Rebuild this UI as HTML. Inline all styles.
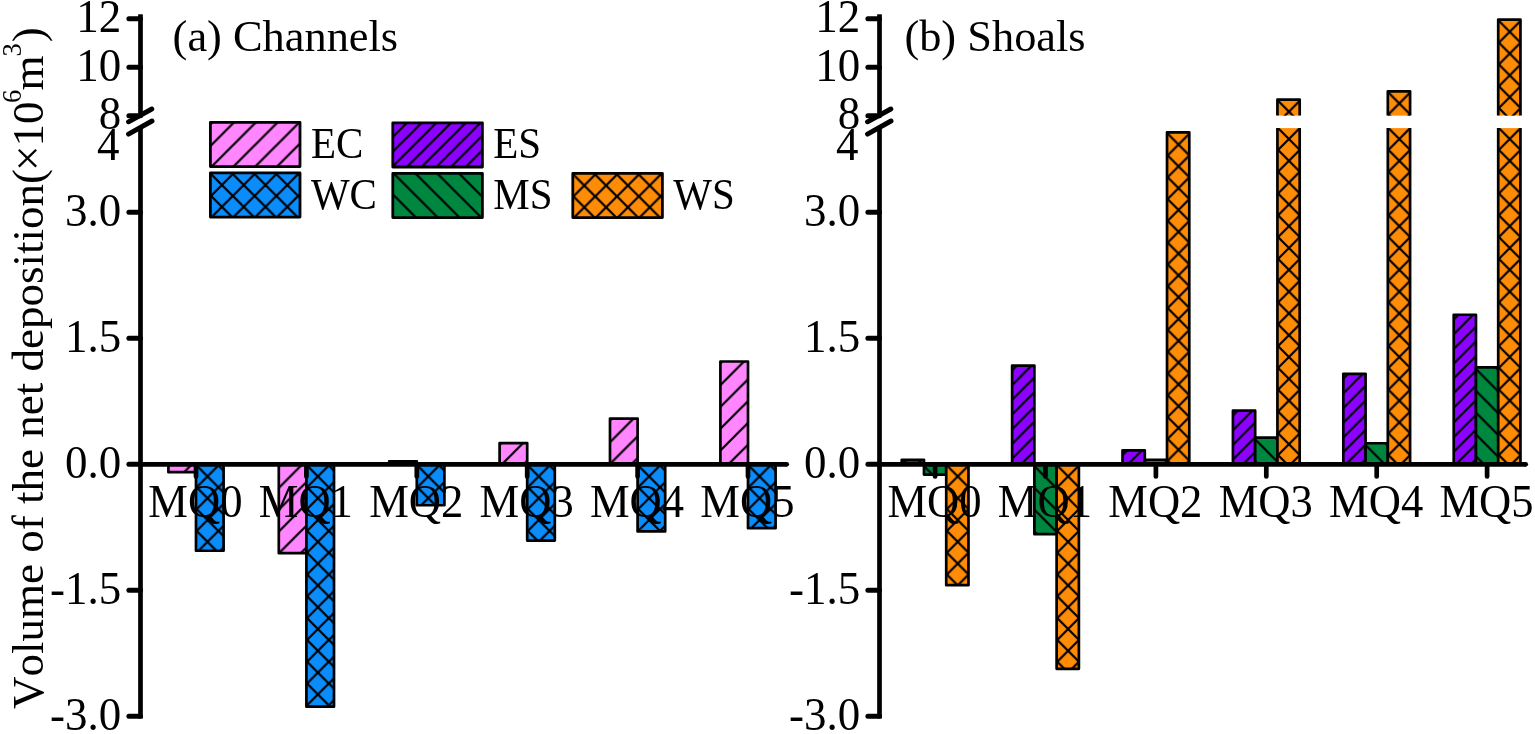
<!DOCTYPE html>
<html lang="en">
<head>
<meta charset="utf-8">
<title>Volume of the net deposition</title>
<style>
html,body{margin:0;padding:0;background:#fff;}
body{width:1535px;height:734px;overflow:hidden;}
svg{display:block;}
svg text{font-family:"Liberation Serif", "Times New Roman", serif;fill:#000;font-kerning:none;font-variant-ligatures:none;}
</style>
</head>
<body>
<svg width="1535" height="734" viewBox="0 0 1535 734">
<rect width="1535" height="734" fill="#fff"/>
<defs>
<pattern id="h1" patternUnits="userSpaceOnUse" x="169.00" y="465.50" width="21.80" height="21.80"><path d="M-23.80 23.80L2.00 -2.00M-2.00 23.80L23.80 -2.00M19.80 23.80L45.60 -2.00" stroke="#000" stroke-width="2.25" fill="none" stroke-linecap="square"/></pattern>
<pattern id="h2" patternUnits="userSpaceOnUse" x="196.60" y="465.50" width="21.80" height="21.80"><path d="M-23.80 23.80L2.00 -2.00M-2.00 23.80L23.80 -2.00M19.80 23.80L45.60 -2.00M-23.80 -2.00L2.00 23.80M-2.00 -2.00L23.80 23.80M19.80 -2.00L45.60 23.80" stroke="#000" stroke-width="2.25" fill="none" stroke-linecap="square"/></pattern>
<pattern id="h3" patternUnits="userSpaceOnUse" x="279.40" y="465.50" width="21.80" height="21.80"><path d="M-23.80 23.80L2.00 -2.00M-2.00 23.80L23.80 -2.00M19.80 23.80L45.60 -2.00" stroke="#000" stroke-width="2.25" fill="none" stroke-linecap="square"/></pattern>
<pattern id="h4" patternUnits="userSpaceOnUse" x="307.00" y="465.50" width="21.80" height="21.80"><path d="M-23.80 23.80L2.00 -2.00M-2.00 23.80L23.80 -2.00M19.80 23.80L45.60 -2.00M-23.80 -2.00L2.00 23.80M-2.00 -2.00L23.80 23.80M19.80 -2.00L45.60 23.80" stroke="#000" stroke-width="2.25" fill="none" stroke-linecap="square"/></pattern>
<pattern id="h5" patternUnits="userSpaceOnUse" x="389.80" y="462.50" width="21.80" height="21.80"><path d="M-23.80 23.80L2.00 -2.00M-2.00 23.80L23.80 -2.00M19.80 23.80L45.60 -2.00" stroke="#000" stroke-width="2.25" fill="none" stroke-linecap="square"/></pattern>
<pattern id="h6" patternUnits="userSpaceOnUse" x="417.40" y="465.50" width="21.80" height="21.80"><path d="M-23.80 23.80L2.00 -2.00M-2.00 23.80L23.80 -2.00M19.80 23.80L45.60 -2.00M-23.80 -2.00L2.00 23.80M-2.00 -2.00L23.80 23.80M19.80 -2.00L45.60 23.80" stroke="#000" stroke-width="2.25" fill="none" stroke-linecap="square"/></pattern>
<pattern id="h7" patternUnits="userSpaceOnUse" x="500.20" y="444.25" width="21.80" height="21.80"><path d="M-23.80 23.80L2.00 -2.00M-2.00 23.80L23.80 -2.00M19.80 23.80L45.60 -2.00" stroke="#000" stroke-width="2.25" fill="none" stroke-linecap="square"/></pattern>
<pattern id="h8" patternUnits="userSpaceOnUse" x="527.80" y="465.50" width="21.80" height="21.80"><path d="M-23.80 23.80L2.00 -2.00M-2.00 23.80L23.80 -2.00M19.80 23.80L45.60 -2.00M-23.80 -2.00L2.00 23.80M-2.00 -2.00L23.80 23.80M19.80 -2.00L45.60 23.80" stroke="#000" stroke-width="2.25" fill="none" stroke-linecap="square"/></pattern>
<pattern id="h9" patternUnits="userSpaceOnUse" x="610.60" y="419.75" width="21.80" height="21.80"><path d="M-23.80 23.80L2.00 -2.00M-2.00 23.80L23.80 -2.00M19.80 23.80L45.60 -2.00" stroke="#000" stroke-width="2.25" fill="none" stroke-linecap="square"/></pattern>
<pattern id="h10" patternUnits="userSpaceOnUse" x="638.20" y="465.50" width="21.80" height="21.80"><path d="M-23.80 23.80L2.00 -2.00M-2.00 23.80L23.80 -2.00M19.80 23.80L45.60 -2.00M-23.80 -2.00L2.00 23.80M-2.00 -2.00L23.80 23.80M19.80 -2.00L45.60 23.80" stroke="#000" stroke-width="2.25" fill="none" stroke-linecap="square"/></pattern>
<pattern id="h11" patternUnits="userSpaceOnUse" x="721.00" y="362.70" width="21.80" height="21.80"><path d="M-23.80 23.80L2.00 -2.00M-2.00 23.80L23.80 -2.00M19.80 23.80L45.60 -2.00" stroke="#000" stroke-width="2.25" fill="none" stroke-linecap="square"/></pattern>
<pattern id="h12" patternUnits="userSpaceOnUse" x="748.60" y="465.50" width="21.80" height="21.80"><path d="M-23.80 23.80L2.00 -2.00M-2.00 23.80L23.80 -2.00M19.80 23.80L45.60 -2.00M-23.80 -2.00L2.00 23.80M-2.00 -2.00L23.80 23.80M19.80 -2.00L45.60 23.80" stroke="#000" stroke-width="2.25" fill="none" stroke-linecap="square"/></pattern>
<pattern id="h13" patternUnits="userSpaceOnUse" x="902.33" y="464.05" width="14.70" height="14.70"><path d="M-16.70 16.70L2.00 -2.00M-2.00 16.70L16.70 -2.00M12.70 16.70L31.40 -2.00" stroke="#000" stroke-width="2.25" fill="none" stroke-linecap="square"/></pattern>
<pattern id="h14" patternUnits="userSpaceOnUse" x="924.58" y="466.70" width="21.80" height="21.80"><path d="M-23.80 -2.00L2.00 23.80M-2.00 -2.00L23.80 23.80M19.80 -2.00L45.60 23.80" stroke="#000" stroke-width="2.25" fill="none" stroke-linecap="square"/></pattern>
<pattern id="h15" patternUnits="userSpaceOnUse" x="946.83" y="465.50" width="21.80" height="21.80"><path d="M-23.80 23.80L2.00 -2.00M-2.00 23.80L23.80 -2.00M19.80 23.80L45.60 -2.00M-23.80 -2.00L2.00 23.80M-2.00 -2.00L23.80 23.80M19.80 -2.00L45.60 23.80" stroke="#000" stroke-width="2.25" fill="none" stroke-linecap="square"/></pattern>
<pattern id="h16" patternUnits="userSpaceOnUse" x="1012.73" y="369.75" width="14.70" height="14.70"><path d="M-16.70 16.70L2.00 -2.00M-2.00 16.70L16.70 -2.00M12.70 16.70L31.40 -2.00" stroke="#000" stroke-width="2.25" fill="none" stroke-linecap="square"/></pattern>
<pattern id="h17" patternUnits="userSpaceOnUse" x="1034.97" y="466.70" width="21.80" height="21.80"><path d="M-23.80 -2.00L2.00 23.80M-2.00 -2.00L23.80 23.80M19.80 -2.00L45.60 23.80" stroke="#000" stroke-width="2.25" fill="none" stroke-linecap="square"/></pattern>
<pattern id="h18" patternUnits="userSpaceOnUse" x="1057.22" y="465.50" width="21.80" height="21.80"><path d="M-23.80 23.80L2.00 -2.00M-2.00 23.80L23.80 -2.00M19.80 23.80L45.60 -2.00M-23.80 -2.00L2.00 23.80M-2.00 -2.00L23.80 23.80M19.80 -2.00L45.60 23.80" stroke="#000" stroke-width="2.25" fill="none" stroke-linecap="square"/></pattern>
<pattern id="h19" patternUnits="userSpaceOnUse" x="1123.12" y="454.55" width="14.70" height="14.70"><path d="M-16.70 16.70L2.00 -2.00M-2.00 16.70L16.70 -2.00M12.70 16.70L31.40 -2.00" stroke="#000" stroke-width="2.25" fill="none" stroke-linecap="square"/></pattern>
<pattern id="h20" patternUnits="userSpaceOnUse" x="1145.38" y="462.15" width="21.80" height="21.80"><path d="M-23.80 -2.00L2.00 23.80M-2.00 -2.00L23.80 23.80M19.80 -2.00L45.60 23.80" stroke="#000" stroke-width="2.25" fill="none" stroke-linecap="square"/></pattern>
<pattern id="h21" patternUnits="userSpaceOnUse" x="1167.62" y="133.65" width="21.80" height="21.80"><path d="M-23.80 23.80L2.00 -2.00M-2.00 23.80L23.80 -2.00M19.80 23.80L45.60 -2.00M-23.80 -2.00L2.00 23.80M-2.00 -2.00L23.80 23.80M19.80 -2.00L45.60 23.80" stroke="#000" stroke-width="2.25" fill="none" stroke-linecap="square"/></pattern>
<pattern id="h22" patternUnits="userSpaceOnUse" x="1233.53" y="414.85" width="14.70" height="14.70"><path d="M-16.70 16.70L2.00 -2.00M-2.00 16.70L16.70 -2.00M12.70 16.70L31.40 -2.00" stroke="#000" stroke-width="2.25" fill="none" stroke-linecap="square"/></pattern>
<pattern id="h23" patternUnits="userSpaceOnUse" x="1255.78" y="440.05" width="21.80" height="21.80"><path d="M-23.80 -2.00L2.00 23.80M-2.00 -2.00L23.80 23.80M19.80 -2.00L45.60 23.80" stroke="#000" stroke-width="2.25" fill="none" stroke-linecap="square"/></pattern>
<pattern id="h24" patternUnits="userSpaceOnUse" x="1278.03" y="128.10" width="21.80" height="21.80"><path d="M-23.80 23.80L2.00 -2.00M-2.00 23.80L23.80 -2.00M19.80 23.80L45.60 -2.00M-23.80 -2.00L2.00 23.80M-2.00 -2.00L23.80 23.80M19.80 -2.00L45.60 23.80" stroke="#000" stroke-width="2.25" fill="none" stroke-linecap="square"/></pattern>
<pattern id="h25" patternUnits="userSpaceOnUse" x="1278.03" y="100.75" width="21.80" height="21.80"><path d="M-23.80 23.80L2.00 -2.00M-2.00 23.80L23.80 -2.00M19.80 23.80L45.60 -2.00M-23.80 -2.00L2.00 23.80M-2.00 -2.00L23.80 23.80M19.80 -2.00L45.60 23.80" stroke="#000" stroke-width="2.25" fill="none" stroke-linecap="square"/></pattern>
<pattern id="h26" patternUnits="userSpaceOnUse" x="1343.92" y="378.05" width="14.70" height="14.70"><path d="M-16.70 16.70L2.00 -2.00M-2.00 16.70L16.70 -2.00M12.70 16.70L31.40 -2.00" stroke="#000" stroke-width="2.25" fill="none" stroke-linecap="square"/></pattern>
<pattern id="h27" patternUnits="userSpaceOnUse" x="1366.17" y="445.65" width="21.80" height="21.80"><path d="M-23.80 -2.00L2.00 23.80M-2.00 -2.00L23.80 23.80M19.80 -2.00L45.60 23.80" stroke="#000" stroke-width="2.25" fill="none" stroke-linecap="square"/></pattern>
<pattern id="h28" patternUnits="userSpaceOnUse" x="1388.42" y="128.10" width="21.80" height="21.80"><path d="M-23.80 23.80L2.00 -2.00M-2.00 23.80L23.80 -2.00M19.80 23.80L45.60 -2.00M-23.80 -2.00L2.00 23.80M-2.00 -2.00L23.80 23.80M19.80 -2.00L45.60 23.80" stroke="#000" stroke-width="2.25" fill="none" stroke-linecap="square"/></pattern>
<pattern id="h29" patternUnits="userSpaceOnUse" x="1388.42" y="92.55" width="21.80" height="21.80"><path d="M-23.80 23.80L2.00 -2.00M-2.00 23.80L23.80 -2.00M19.80 23.80L45.60 -2.00M-23.80 -2.00L2.00 23.80M-2.00 -2.00L23.80 23.80M19.80 -2.00L45.60 23.80" stroke="#000" stroke-width="2.25" fill="none" stroke-linecap="square"/></pattern>
<pattern id="h30" patternUnits="userSpaceOnUse" x="1454.32" y="318.95" width="14.70" height="14.70"><path d="M-16.70 16.70L2.00 -2.00M-2.00 16.70L16.70 -2.00M12.70 16.70L31.40 -2.00" stroke="#000" stroke-width="2.25" fill="none" stroke-linecap="square"/></pattern>
<pattern id="h31" patternUnits="userSpaceOnUse" x="1476.57" y="369.70" width="21.80" height="21.80"><path d="M-23.80 -2.00L2.00 23.80M-2.00 -2.00L23.80 23.80M19.80 -2.00L45.60 23.80" stroke="#000" stroke-width="2.25" fill="none" stroke-linecap="square"/></pattern>
<pattern id="h32" patternUnits="userSpaceOnUse" x="1498.82" y="128.10" width="21.80" height="21.80"><path d="M-23.80 23.80L2.00 -2.00M-2.00 23.80L23.80 -2.00M19.80 23.80L45.60 -2.00M-23.80 -2.00L2.00 23.80M-2.00 -2.00L23.80 23.80M19.80 -2.00L45.60 23.80" stroke="#000" stroke-width="2.25" fill="none" stroke-linecap="square"/></pattern>
<pattern id="h33" patternUnits="userSpaceOnUse" x="1498.82" y="20.85" width="21.80" height="21.80"><path d="M-23.80 23.80L2.00 -2.00M-2.00 23.80L23.80 -2.00M19.80 23.80L45.60 -2.00M-23.80 -2.00L2.00 23.80M-2.00 -2.00L23.80 23.80M19.80 -2.00L45.60 23.80" stroke="#000" stroke-width="2.25" fill="none" stroke-linecap="square"/></pattern>
<pattern id="h34" patternUnits="userSpaceOnUse" x="211.00" y="123.60" width="21.80" height="21.80"><path d="M-23.80 23.80L2.00 -2.00M-2.00 23.80L23.80 -2.00M19.80 23.80L45.60 -2.00" stroke="#000" stroke-width="2.25" fill="none" stroke-linecap="square"/></pattern>
<pattern id="h35" patternUnits="userSpaceOnUse" x="211.00" y="174.10" width="21.80" height="21.80"><path d="M-23.80 23.80L2.00 -2.00M-2.00 23.80L23.80 -2.00M19.80 23.80L45.60 -2.00M-23.80 -2.00L2.00 23.80M-2.00 -2.00L23.80 23.80M19.80 -2.00L45.60 23.80" stroke="#000" stroke-width="2.25" fill="none" stroke-linecap="square"/></pattern>
<pattern id="h36" patternUnits="userSpaceOnUse" x="391.10" y="124.00" width="14.70" height="14.70"><path d="M-16.70 16.70L2.00 -2.00M-2.00 16.70L16.70 -2.00M12.70 16.70L31.40 -2.00" stroke="#000" stroke-width="2.25" fill="none" stroke-linecap="square"/></pattern>
<pattern id="h37" patternUnits="userSpaceOnUse" x="394.80" y="174.60" width="21.80" height="21.80"><path d="M-23.80 -2.00L2.00 23.80M-2.00 -2.00L23.80 23.80M19.80 -2.00L45.60 23.80" stroke="#000" stroke-width="2.25" fill="none" stroke-linecap="square"/></pattern>
<pattern id="h38" patternUnits="userSpaceOnUse" x="573.40" y="174.60" width="21.80" height="21.80"><path d="M-23.80 23.80L2.00 -2.00M-2.00 23.80L23.80 -2.00M19.80 23.80L45.60 -2.00M-23.80 -2.00L2.00 23.80M-2.00 -2.00L23.80 23.80M19.80 -2.00L45.60 23.80" stroke="#000" stroke-width="2.25" fill="none" stroke-linecap="square"/></pattern>
</defs>
<rect x="168.40" y="464.30" width="27.60" height="7.85" fill="#FF86FF"/>
<rect x="168.40" y="464.30" width="27.60" height="7.85" fill="url(#h1)"/>
<path d="M168.40 464.30H196.00V472.15H168.40Z" fill="none" stroke="#000" stroke-width="2.70" stroke-linejoin="round"/>
<rect x="196.00" y="464.30" width="27.60" height="86.45" fill="#0A8CFA"/>
<rect x="196.00" y="464.30" width="27.60" height="86.45" fill="url(#h2)"/>
<path d="M196.00 464.30H223.60V550.75H196.00Z" fill="none" stroke="#000" stroke-width="2.70" stroke-linejoin="round"/>
<rect x="278.80" y="464.30" width="27.60" height="88.85" fill="#FF86FF"/>
<rect x="278.80" y="464.30" width="27.60" height="88.85" fill="url(#h3)"/>
<path d="M278.80 464.30H306.40V553.15H278.80Z" fill="none" stroke="#000" stroke-width="2.70" stroke-linejoin="round"/>
<rect x="306.40" y="464.30" width="27.60" height="242.35" fill="#0A8CFA"/>
<rect x="306.40" y="464.30" width="27.60" height="242.35" fill="url(#h4)"/>
<path d="M306.40 464.30H334.00V706.65H306.40Z" fill="none" stroke="#000" stroke-width="2.70" stroke-linejoin="round"/>
<rect x="389.20" y="461.30" width="27.60" height="3.00" fill="#FF86FF"/>
<rect x="389.20" y="461.30" width="27.60" height="3.00" fill="url(#h5)"/>
<path d="M389.20 461.30H416.80V464.30H389.20Z" fill="none" stroke="#000" stroke-width="2.70" stroke-linejoin="round"/>
<rect x="416.80" y="464.30" width="27.60" height="40.95" fill="#0A8CFA"/>
<rect x="416.80" y="464.30" width="27.60" height="40.95" fill="url(#h6)"/>
<path d="M416.80 464.30H444.40V505.25H416.80Z" fill="none" stroke="#000" stroke-width="2.70" stroke-linejoin="round"/>
<rect x="499.60" y="443.05" width="27.60" height="21.25" fill="#FF86FF"/>
<rect x="499.60" y="443.05" width="27.60" height="21.25" fill="url(#h7)"/>
<path d="M499.60 443.05H527.20V464.30H499.60Z" fill="none" stroke="#000" stroke-width="2.70" stroke-linejoin="round"/>
<rect x="527.20" y="464.30" width="27.60" height="76.25" fill="#0A8CFA"/>
<rect x="527.20" y="464.30" width="27.60" height="76.25" fill="url(#h8)"/>
<path d="M527.20 464.30H554.80V540.55H527.20Z" fill="none" stroke="#000" stroke-width="2.70" stroke-linejoin="round"/>
<rect x="610.00" y="418.55" width="27.60" height="45.75" fill="#FF86FF"/>
<rect x="610.00" y="418.55" width="27.60" height="45.75" fill="url(#h9)"/>
<path d="M610.00 418.55H637.60V464.30H610.00Z" fill="none" stroke="#000" stroke-width="2.70" stroke-linejoin="round"/>
<rect x="637.60" y="464.30" width="27.60" height="67.15" fill="#0A8CFA"/>
<rect x="637.60" y="464.30" width="27.60" height="67.15" fill="url(#h10)"/>
<path d="M637.60 464.30H665.20V531.45H637.60Z" fill="none" stroke="#000" stroke-width="2.70" stroke-linejoin="round"/>
<rect x="720.40" y="361.50" width="27.60" height="102.80" fill="#FF86FF"/>
<rect x="720.40" y="361.50" width="27.60" height="102.80" fill="url(#h11)"/>
<path d="M720.40 361.50H748.00V464.30H720.40Z" fill="none" stroke="#000" stroke-width="2.70" stroke-linejoin="round"/>
<rect x="748.00" y="464.30" width="27.60" height="63.85" fill="#0A8CFA"/>
<rect x="748.00" y="464.30" width="27.60" height="63.85" fill="url(#h12)"/>
<path d="M748.00 464.30H775.60V528.15H748.00Z" fill="none" stroke="#000" stroke-width="2.70" stroke-linejoin="round"/>
<rect x="901.73" y="459.85" width="22.25" height="4.45" fill="#8C02FF"/>
<rect x="901.73" y="459.85" width="22.25" height="4.45" fill="url(#h13)"/>
<path d="M901.73 459.85H923.98V464.30H901.73Z" fill="none" stroke="#000" stroke-width="2.70" stroke-linejoin="round"/>
<rect x="923.98" y="464.30" width="22.25" height="10.25" fill="#00873F"/>
<rect x="923.98" y="464.30" width="22.25" height="10.25" fill="url(#h14)"/>
<path d="M923.98 464.30H946.23V474.55H923.98Z" fill="none" stroke="#000" stroke-width="2.70" stroke-linejoin="round"/>
<rect x="946.23" y="464.30" width="22.25" height="120.85" fill="#FF8C06"/>
<rect x="946.23" y="464.30" width="22.25" height="120.85" fill="url(#h15)"/>
<path d="M946.23 464.30H968.48V585.15H946.23Z" fill="none" stroke="#000" stroke-width="2.70" stroke-linejoin="round"/>
<rect x="1012.12" y="365.55" width="22.25" height="98.75" fill="#8C02FF"/>
<rect x="1012.12" y="365.55" width="22.25" height="98.75" fill="url(#h16)"/>
<path d="M1012.12 365.55H1034.38V464.30H1012.12Z" fill="none" stroke="#000" stroke-width="2.70" stroke-linejoin="round"/>
<rect x="1034.38" y="464.30" width="22.25" height="69.85" fill="#00873F"/>
<rect x="1034.38" y="464.30" width="22.25" height="69.85" fill="url(#h17)"/>
<path d="M1034.38 464.30H1056.62V534.15H1034.38Z" fill="none" stroke="#000" stroke-width="2.70" stroke-linejoin="round"/>
<rect x="1056.62" y="464.30" width="22.25" height="204.55" fill="#FF8C06"/>
<rect x="1056.62" y="464.30" width="22.25" height="204.55" fill="url(#h18)"/>
<path d="M1056.62 464.30H1078.88V668.85H1056.62Z" fill="none" stroke="#000" stroke-width="2.70" stroke-linejoin="round"/>
<rect x="1122.53" y="450.35" width="22.25" height="13.95" fill="#8C02FF"/>
<rect x="1122.53" y="450.35" width="22.25" height="13.95" fill="url(#h19)"/>
<path d="M1122.53 450.35H1144.78V464.30H1122.53Z" fill="none" stroke="#000" stroke-width="2.70" stroke-linejoin="round"/>
<rect x="1144.78" y="459.75" width="22.25" height="4.55" fill="#00873F"/>
<rect x="1144.78" y="459.75" width="22.25" height="4.55" fill="url(#h20)"/>
<path d="M1144.78 459.75H1167.03V464.30H1144.78Z" fill="none" stroke="#000" stroke-width="2.70" stroke-linejoin="round"/>
<rect x="1167.03" y="132.45" width="22.25" height="331.85" fill="#FF8C06"/>
<rect x="1167.03" y="132.45" width="22.25" height="331.85" fill="url(#h21)"/>
<path d="M1167.03 132.45H1189.28V464.30H1167.03Z" fill="none" stroke="#000" stroke-width="2.70" stroke-linejoin="round"/>
<rect x="1232.93" y="410.65" width="22.25" height="53.65" fill="#8C02FF"/>
<rect x="1232.93" y="410.65" width="22.25" height="53.65" fill="url(#h22)"/>
<path d="M1232.93 410.65H1255.18V464.30H1232.93Z" fill="none" stroke="#000" stroke-width="2.70" stroke-linejoin="round"/>
<rect x="1255.18" y="437.65" width="22.25" height="26.65" fill="#00873F"/>
<rect x="1255.18" y="437.65" width="22.25" height="26.65" fill="url(#h23)"/>
<path d="M1255.18 437.65H1277.43V464.30H1255.18Z" fill="none" stroke="#000" stroke-width="2.70" stroke-linejoin="round"/>
<rect x="1277.43" y="128.10" width="22.25" height="336.20" fill="#FF8C06"/>
<rect x="1277.43" y="128.10" width="22.25" height="336.20" fill="url(#h24)"/>
<path d="M1277.43 128.10L1277.43 464.30L1299.68 464.30L1299.68 128.10" fill="none" stroke="#000" stroke-width="2.70" stroke-linejoin="round"/>
<rect x="1277.43" y="99.55" width="22.25" height="16.05" fill="#FF8C06"/>
<rect x="1277.43" y="99.55" width="22.25" height="16.05" fill="url(#h25)"/>
<path d="M1277.43 115.60L1277.43 99.55L1299.68 99.55L1299.68 115.60" fill="none" stroke="#000" stroke-width="2.70" stroke-linejoin="round"/>
<rect x="1343.33" y="373.85" width="22.25" height="90.45" fill="#8C02FF"/>
<rect x="1343.33" y="373.85" width="22.25" height="90.45" fill="url(#h26)"/>
<path d="M1343.33 373.85H1365.58V464.30H1343.33Z" fill="none" stroke="#000" stroke-width="2.70" stroke-linejoin="round"/>
<rect x="1365.58" y="443.25" width="22.25" height="21.05" fill="#00873F"/>
<rect x="1365.58" y="443.25" width="22.25" height="21.05" fill="url(#h27)"/>
<path d="M1365.58 443.25H1387.83V464.30H1365.58Z" fill="none" stroke="#000" stroke-width="2.70" stroke-linejoin="round"/>
<rect x="1387.83" y="128.10" width="22.25" height="336.20" fill="#FF8C06"/>
<rect x="1387.83" y="128.10" width="22.25" height="336.20" fill="url(#h28)"/>
<path d="M1387.83 128.10L1387.83 464.30L1410.08 464.30L1410.08 128.10" fill="none" stroke="#000" stroke-width="2.70" stroke-linejoin="round"/>
<rect x="1387.83" y="91.35" width="22.25" height="24.25" fill="#FF8C06"/>
<rect x="1387.83" y="91.35" width="22.25" height="24.25" fill="url(#h29)"/>
<path d="M1387.83 115.60L1387.83 91.35L1410.08 91.35L1410.08 115.60" fill="none" stroke="#000" stroke-width="2.70" stroke-linejoin="round"/>
<rect x="1453.72" y="314.75" width="22.25" height="149.55" fill="#8C02FF"/>
<rect x="1453.72" y="314.75" width="22.25" height="149.55" fill="url(#h30)"/>
<path d="M1453.72 314.75H1475.97V464.30H1453.72Z" fill="none" stroke="#000" stroke-width="2.70" stroke-linejoin="round"/>
<rect x="1475.97" y="367.30" width="22.25" height="97.00" fill="#00873F"/>
<rect x="1475.97" y="367.30" width="22.25" height="97.00" fill="url(#h31)"/>
<path d="M1475.97 367.30H1498.22V464.30H1475.97Z" fill="none" stroke="#000" stroke-width="2.70" stroke-linejoin="round"/>
<rect x="1498.22" y="128.10" width="22.25" height="336.20" fill="#FF8C06"/>
<rect x="1498.22" y="128.10" width="22.25" height="336.20" fill="url(#h32)"/>
<path d="M1498.22 128.10L1498.22 464.30L1520.47 464.30L1520.47 128.10" fill="none" stroke="#000" stroke-width="2.70" stroke-linejoin="round"/>
<rect x="1498.22" y="19.65" width="22.25" height="95.95" fill="#FF8C06"/>
<rect x="1498.22" y="19.65" width="22.25" height="95.95" fill="url(#h33)"/>
<path d="M1498.22 115.60L1498.22 19.65L1520.47 19.65L1520.47 115.60" fill="none" stroke="#000" stroke-width="2.70" stroke-linejoin="round"/>
<line x1="140.50" y1="14.30" x2="140.50" y2="113.50" stroke="#000" stroke-width="4.70" stroke-linecap="butt"/>
<line x1="140.50" y1="126.50" x2="140.50" y2="718.50" stroke="#000" stroke-width="4.70" stroke-linecap="butt"/>
<line x1="128.90" y1="18.70" x2="140.50" y2="18.70" stroke="#000" stroke-width="5.00" stroke-linecap="round"/>
<line x1="128.90" y1="67.30" x2="140.50" y2="67.30" stroke="#000" stroke-width="5.00" stroke-linecap="round"/>
<line x1="128.90" y1="115.80" x2="140.50" y2="115.80" stroke="#000" stroke-width="5.00" stroke-linecap="round"/>
<line x1="128.90" y1="212.20" x2="140.50" y2="212.20" stroke="#000" stroke-width="5.00" stroke-linecap="round"/>
<line x1="128.90" y1="338.20" x2="140.50" y2="338.20" stroke="#000" stroke-width="5.00" stroke-linecap="round"/>
<line x1="128.90" y1="464.30" x2="140.50" y2="464.30" stroke="#000" stroke-width="5.00" stroke-linecap="round"/>
<line x1="128.90" y1="590.30" x2="140.50" y2="590.30" stroke="#000" stroke-width="5.00" stroke-linecap="round"/>
<line x1="128.90" y1="716.20" x2="140.50" y2="716.20" stroke="#000" stroke-width="5.00" stroke-linecap="round"/>
<line x1="128.50" y1="121.80" x2="151.80" y2="109.00" stroke="#000" stroke-width="4.90" stroke-linecap="round"/>
<line x1="128.50" y1="134.10" x2="152.00" y2="121.00" stroke="#000" stroke-width="4.90" stroke-linecap="round"/>
<line x1="140.50" y1="464.30" x2="786.70" y2="464.30" stroke="#000" stroke-width="4.70" stroke-linecap="butt"/>
<circle cx="786.70" cy="464.30" r="2.35" fill="#000"/>
<line x1="196.00" y1="464.30" x2="196.00" y2="476.50" stroke="#000" stroke-width="4.70" stroke-linecap="round"/>
<line x1="306.40" y1="464.30" x2="306.40" y2="476.50" stroke="#000" stroke-width="4.70" stroke-linecap="round"/>
<line x1="416.80" y1="464.30" x2="416.80" y2="476.50" stroke="#000" stroke-width="4.70" stroke-linecap="round"/>
<line x1="527.20" y1="464.30" x2="527.20" y2="476.50" stroke="#000" stroke-width="4.70" stroke-linecap="round"/>
<line x1="637.60" y1="464.30" x2="637.60" y2="476.50" stroke="#000" stroke-width="4.70" stroke-linecap="round"/>
<line x1="748.00" y1="464.30" x2="748.00" y2="476.50" stroke="#000" stroke-width="4.70" stroke-linecap="round"/>
<text transform="translate(121.20 32.30) scale(1 1.045)" font-size="45.00" text-anchor="end">12</text>
<text transform="translate(121.20 80.90) scale(1 1.045)" font-size="45.00" text-anchor="end">10</text>
<text transform="translate(121.20 128.60) scale(1 1.045)" font-size="45.00" text-anchor="end">8</text>
<text transform="translate(121.20 225.80) scale(1 1.045)" font-size="45.00" text-anchor="end">3.0</text>
<text transform="translate(121.20 351.80) scale(1 1.045)" font-size="45.00" text-anchor="end">1.5</text>
<text transform="translate(121.20 477.90) scale(1 1.045)" font-size="45.00" text-anchor="end">0.0</text>
<text transform="translate(121.20 603.90) scale(1 1.045)" font-size="45.00" text-anchor="end">-1.5</text>
<text transform="translate(121.20 729.80) scale(1 1.045)" font-size="45.00" text-anchor="end">-3.0</text>
<text transform="translate(119.40 159.80) scale(1 1.045)" font-size="45.00" text-anchor="end">4</text>
<text transform="translate(195.40 517.40) scale(1 1.030)" font-size="44.60" text-anchor="middle">MQ0</text>
<text transform="translate(305.80 517.40) scale(1 1.030)" font-size="44.60" text-anchor="middle">MQ1</text>
<text transform="translate(416.20 517.40) scale(1 1.030)" font-size="44.60" text-anchor="middle">MQ2</text>
<text transform="translate(526.60 517.40) scale(1 1.030)" font-size="44.60" text-anchor="middle">MQ3</text>
<text transform="translate(637.00 517.40) scale(1 1.030)" font-size="44.60" text-anchor="middle">MQ4</text>
<text transform="translate(747.40 517.40) scale(1 1.030)" font-size="44.60" text-anchor="middle">MQ5</text>
<line x1="879.50" y1="14.30" x2="879.50" y2="113.50" stroke="#000" stroke-width="4.70" stroke-linecap="butt"/>
<line x1="879.50" y1="126.50" x2="879.50" y2="718.50" stroke="#000" stroke-width="4.70" stroke-linecap="butt"/>
<line x1="867.90" y1="18.70" x2="879.50" y2="18.70" stroke="#000" stroke-width="5.00" stroke-linecap="round"/>
<line x1="867.90" y1="67.30" x2="879.50" y2="67.30" stroke="#000" stroke-width="5.00" stroke-linecap="round"/>
<line x1="867.90" y1="115.80" x2="879.50" y2="115.80" stroke="#000" stroke-width="5.00" stroke-linecap="round"/>
<line x1="867.90" y1="212.20" x2="879.50" y2="212.20" stroke="#000" stroke-width="5.00" stroke-linecap="round"/>
<line x1="867.90" y1="338.20" x2="879.50" y2="338.20" stroke="#000" stroke-width="5.00" stroke-linecap="round"/>
<line x1="867.90" y1="464.30" x2="879.50" y2="464.30" stroke="#000" stroke-width="5.00" stroke-linecap="round"/>
<line x1="867.90" y1="590.30" x2="879.50" y2="590.30" stroke="#000" stroke-width="5.00" stroke-linecap="round"/>
<line x1="867.90" y1="716.20" x2="879.50" y2="716.20" stroke="#000" stroke-width="5.00" stroke-linecap="round"/>
<line x1="867.50" y1="121.80" x2="890.80" y2="109.00" stroke="#000" stroke-width="4.90" stroke-linecap="round"/>
<line x1="867.50" y1="134.10" x2="891.00" y2="121.00" stroke="#000" stroke-width="4.90" stroke-linecap="round"/>
<line x1="879.50" y1="464.30" x2="1525.70" y2="464.30" stroke="#000" stroke-width="4.70" stroke-linecap="butt"/>
<circle cx="1525.70" cy="464.30" r="2.35" fill="#000"/>
<line x1="935.10" y1="464.30" x2="935.10" y2="476.50" stroke="#000" stroke-width="4.70" stroke-linecap="round"/>
<line x1="1045.50" y1="464.30" x2="1045.50" y2="476.50" stroke="#000" stroke-width="4.70" stroke-linecap="round"/>
<line x1="1155.90" y1="464.30" x2="1155.90" y2="476.50" stroke="#000" stroke-width="4.70" stroke-linecap="round"/>
<line x1="1266.30" y1="464.30" x2="1266.30" y2="476.50" stroke="#000" stroke-width="4.70" stroke-linecap="round"/>
<line x1="1376.70" y1="464.30" x2="1376.70" y2="476.50" stroke="#000" stroke-width="4.70" stroke-linecap="round"/>
<line x1="1487.10" y1="464.30" x2="1487.10" y2="476.50" stroke="#000" stroke-width="4.70" stroke-linecap="round"/>
<text transform="translate(860.20 32.30) scale(1 1.045)" font-size="45.00" text-anchor="end">12</text>
<text transform="translate(860.20 80.90) scale(1 1.045)" font-size="45.00" text-anchor="end">10</text>
<text transform="translate(860.20 128.60) scale(1 1.045)" font-size="45.00" text-anchor="end">8</text>
<text transform="translate(860.20 225.80) scale(1 1.045)" font-size="45.00" text-anchor="end">3.0</text>
<text transform="translate(860.20 351.80) scale(1 1.045)" font-size="45.00" text-anchor="end">1.5</text>
<text transform="translate(860.20 477.90) scale(1 1.045)" font-size="45.00" text-anchor="end">0.0</text>
<text transform="translate(860.20 603.90) scale(1 1.045)" font-size="45.00" text-anchor="end">-1.5</text>
<text transform="translate(860.20 729.80) scale(1 1.045)" font-size="45.00" text-anchor="end">-3.0</text>
<text transform="translate(858.40 159.80) scale(1 1.045)" font-size="45.00" text-anchor="end">4</text>
<text transform="translate(934.50 517.40) scale(1 1.030)" font-size="44.60" text-anchor="middle">MQ0</text>
<text transform="translate(1044.90 517.40) scale(1 1.030)" font-size="44.60" text-anchor="middle">MQ1</text>
<text transform="translate(1155.30 517.40) scale(1 1.030)" font-size="44.60" text-anchor="middle">MQ2</text>
<text transform="translate(1265.70 517.40) scale(1 1.030)" font-size="44.60" text-anchor="middle">MQ3</text>
<text transform="translate(1376.10 517.40) scale(1 1.030)" font-size="44.60" text-anchor="middle">MQ4</text>
<text transform="translate(1486.50 517.40) scale(1 1.030)" font-size="44.60" text-anchor="middle">MQ5</text>
<text transform="translate(172.60 50.80) scale(1 1.015)" font-size="44.40" text-anchor="start">(a) Channels</text>
<text transform="translate(904.40 50.80) scale(1 1.015)" font-size="44.40" text-anchor="start">(b) Shoals</text>
<text transform="translate(43.3 709.0) rotate(-90)" font-size="45">Volume of the net deposition(<tspan font-size="45.5" dx="-2.0">×</tspan><tspan dx="-1.0">10</tspan><tspan font-size="26.5" dy="-22.5" dx="-1.5">6</tspan><tspan dy="22.5" dx="-0.7">m</tspan><tspan font-size="26.5" dy="-22.5" dx="-1">3</tspan><tspan dy="22.5" dx="0.8">)</tspan></text>
<rect x="210.40" y="122.40" width="89.60" height="44.20" fill="#FF86FF"/>
<rect x="210.40" y="122.40" width="89.60" height="44.20" fill="url(#h34)" stroke="#000" stroke-width="2.80" stroke-linejoin="round"/>
<text transform="translate(310.90 158.00) scale(1 1.060)" font-size="41.00" text-anchor="start">EC</text>
<rect x="210.40" y="172.90" width="89.60" height="44.20" fill="#0A8CFA"/>
<rect x="210.40" y="172.90" width="89.60" height="44.20" fill="url(#h35)" stroke="#000" stroke-width="2.80" stroke-linejoin="round"/>
<text transform="translate(310.90 208.50) scale(1 1.060)" font-size="41.00" text-anchor="start">WC</text>
<rect x="392.80" y="122.80" width="89.60" height="44.20" fill="#8C02FF"/>
<rect x="392.80" y="122.80" width="89.60" height="44.20" fill="url(#h36)" stroke="#000" stroke-width="2.80" stroke-linejoin="round"/>
<text transform="translate(493.30 158.40) scale(1 1.060)" font-size="41.00" text-anchor="start">ES</text>
<rect x="392.80" y="173.40" width="89.60" height="44.20" fill="#00873F"/>
<rect x="392.80" y="173.40" width="89.60" height="44.20" fill="url(#h37)" stroke="#000" stroke-width="2.80" stroke-linejoin="round"/>
<text transform="translate(493.30 209.00) scale(1 1.060)" font-size="41.00" text-anchor="start">MS</text>
<rect x="572.80" y="173.40" width="89.60" height="44.20" fill="#FF8C06"/>
<rect x="572.80" y="173.40" width="89.60" height="44.20" fill="url(#h38)" stroke="#000" stroke-width="2.80" stroke-linejoin="round"/>
<text transform="translate(673.30 209.00) scale(1 1.060)" font-size="41.00" text-anchor="start">WS</text>
</svg>
</body>
</html>
